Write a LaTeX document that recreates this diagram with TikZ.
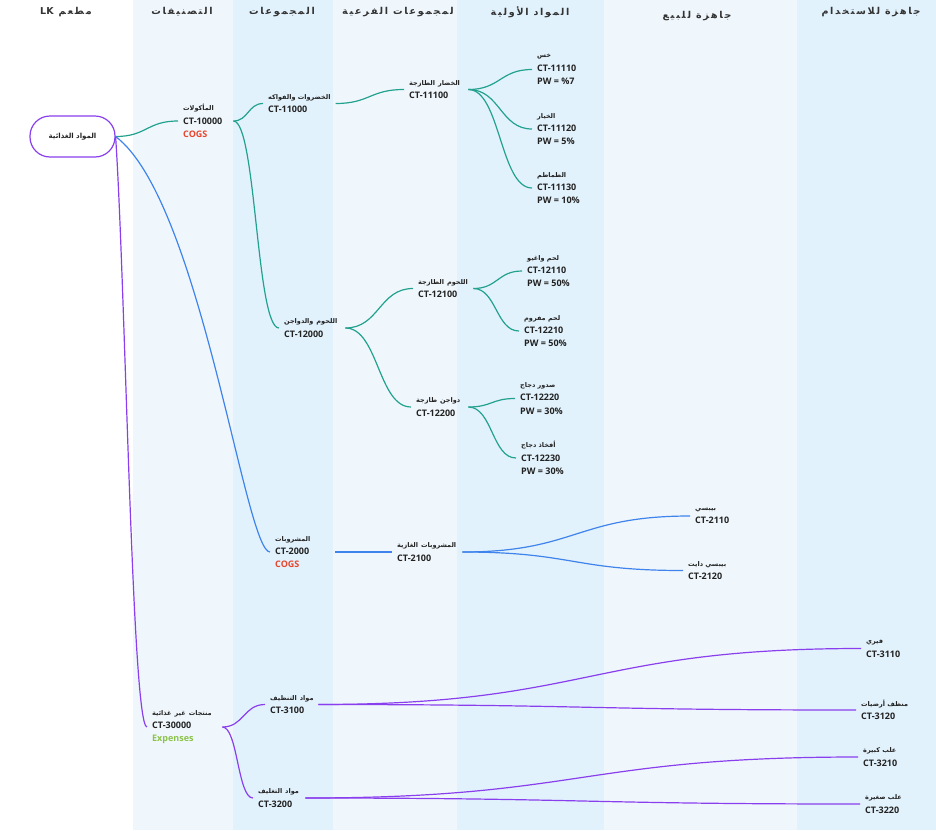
\documentclass[tikz,border=0pt]{standalone}
\usepackage{fontspec}
\setmainfont{Open Sans}
\newfontfamily\arfont[Script=Arabic]{DejaVu Sans}
\newfontfamily\hdfont[Script=Arabic,LetterSpace=18]{DejaVu Sans}
\TeXXeTstate=1
\usetikzlibrary{calc}
\definecolor{tealA}{HTML}{22A28E}
\definecolor{blueA}{HTML}{3F83EC}
\definecolor{purpA}{HTML}{8A3FEE}
\definecolor{bgA}{HTML}{F0F7FC}
\definecolor{bgB}{HTML}{E2F2FC}
\definecolor{cogsC}{HTML}{E8452C}
\definecolor{expnC}{HTML}{8BC34A}
\definecolor{txtC}{HTML}{222222}
\definecolor{hdC}{HTML}{333333}
\newcommand{\AR}[1]{\mbox{\fontsize{6.5}{13.3}\arfont\bfseries\beginR #1\endR}}
\newcommand{\CT}[1]{\mbox{\bfseries #1}}
\newcommand{\CG}{\mbox{\color{cogsC}\bfseries COGS}}
\newcommand{\EX}{\mbox{\color{expnC}\bfseries Expenses}}
\newcommand{\sconn}[3]{\draw[link,#1] (#2) .. controls ($(#2)!0.5!(#2-|#3)$) and ($(#3)!0.5!(#3-|#2)$) .. (#3);}
\tikzset{
  lbl/.style={anchor=west, inner xsep=5pt, inner ysep=0pt, align=left, font=\fontsize{9}{13.3}\selectfont, text=txtC},
  hdr/.style={font=\fontsize{9.5}{11}\hdfont\bfseries, text=hdC, inner sep=0pt},
  link/.style={line width=1.2pt},
  rootbox/.style={draw=purpA, line width=1.2pt, rounded corners=20pt, minimum width=85pt, minimum height=41pt, fill=white, font=\fontsize{7}{9}\arfont\bfseries, text=txtC}
}
\begin{document}
\begin{tikzpicture}[x=1pt,y=-1pt]
\useasboundingbox (0,0) rectangle (936,830);
% column backgrounds
\fill[white] (0,0) rectangle (133,830);
\fill[bgA] (133,0) rectangle (233,830);
\fill[bgB] (233,0) rectangle (333,830);
\fill[bgA] (333,0) rectangle (457,830);
\fill[bgB] (457,0) rectangle (604,830);
\fill[bgA] (604,0) rectangle (797,830);
\fill[bgB] (797,0) rectangle (936,830);
% headers
\node[hdr] (h1) at (66,12) {\beginR مطعم \beginL{\arfont\bfseries LK}\endL\endR};
\node[hdr] (h2) at (182,12) {\beginR التصنيفات\endR};
\node[hdr] (h3) at (282,12) {\beginR المجموعات\endR};
\node[hdr] (h4) at (398,12) {\beginR لمجموعات الفرعية\endR};
\node[hdr] (h5) at (530,12) {\beginR المواد الأولية\endR};
\node[hdr] (h6) at (697,16) {\beginR جاهزة للبيع\endR};
\node[hdr] (h7) at (871,12) {\beginR جاهزة للاستخدام\endR};
% root
\node[rootbox] (root) at (72.5,136.5) {\beginR المواد الغذائية\endR};
% level 1
\node[lbl,text width=45pt] (n10000) at (178,121) {\AR{المأكولات}\\\CT{CT-10000}\\\CG};
\node[lbl,text width=65pt] (n30000) at (147,727) {\AR{منتجات غير غذائية}\\\CT{CT-30000}\\\EX};
% level 2
\node[lbl] (n11000) at (263,103.5) {\AR{الخضروات والفواكه}\\\CT{CT-11000}};
\node[lbl,text width=56pt] (n12000) at (279,328) {\AR{اللحوم والدواجن}\\\CT{CT-12000}};
\node[lbl,text width=55pt] (n2000) at (270,552) {\AR{المشروبات}\\\CT{CT-2000}\\\CG};
\node[lbl,text width=43pt] (n3100) at (265,704.5) {\AR{مواد التنظيف}\\\CT{CT-3100}};
\node[lbl,text width=42pt] (n3200) at (253,798) {\AR{مواد التغليف}\\\CT{CT-3200}};
% level 3
\node[lbl,text width=54pt] (n11100) at (404,89.5) {\AR{الخضار الطازجة}\\\CT{CT-11100}};
\node[lbl,text width=50pt] (n12100) at (413,288.5) {\AR{اللحوم الطازجة}\\\CT{CT-12100}};
\node[lbl,text width=47pt] (n12200) at (411,407) {\AR{دواجن طازجة}\\\CT{CT-12200}};
\node[lbl,text width=60pt] (n2100) at (392,552) {\AR{المشروبات الغازية}\\\CT{CT-2100}};
% level 4
\node[lbl] (n11110) at (532,69.5) {\AR{خس}\\\CT{CT-11110}\\\CT{PW = \%7}};
\node[lbl] (n11120) at (532,129) {\AR{الخيار}\\\CT{CT-11120}\\\CT{PW = 5\%}};
\node[lbl] (n11130) at (532,188) {\AR{الطماطم}\\\CT{CT-11130}\\\CT{PW = 10\%}};
\node[lbl] (n12110) at (522,271) {\AR{لحم واغيو}\\\CT{CT-12110}\\\CT{PW = 50\%}};
\node[lbl] (n12210) at (519,331) {\AR{لحم مفروم}\\\CT{CT-12210}\\\CT{PW = 50\%}};
\node[lbl] (n12220) at (515,398.5) {\AR{صدور دجاج}\\\CT{CT-12220}\\\CT{PW = 30\%}};
\node[lbl] (n12230) at (516,458) {\AR{أفخاذ دجاج}\\\CT{CT-12230}\\\CT{PW = 30\%}};
\node[lbl] (n2110) at (690,516) {\AR{بيبسي}\\\CT{CT-2110}};
\node[lbl] (n2120) at (683,570.5) {\AR{بيبسي دايت}\\\CT{CT-2120}};
\node[lbl] (n3110) at (861,648.5) {\AR{فيري}\\\CT{CT-3110}};
\node[lbl] (n3120) at (856,710) {\AR{منظف أرضيات}\\\CT{CT-3120}};
\node[lbl] (n3210) at (858,757) {\AR{علب كبيرة}\\\CT{CT-3210}};
\node[lbl] (n3220) at (860,804) {\AR{علب صغيرة}\\\CT{CT-3220}};
% connectors
\sconn{tealA}{root.east}{n10000.west}
\draw[link,blueA] (root.east) .. controls +(85,64) and +(-25,0) .. (n2000.west);
\draw[link,purpA] (root.east) .. controls +(10,150) and +(-15,0) .. (n30000.west);
\sconn{tealA}{n10000.east}{n11000.west}
\sconn{tealA}{n10000.east}{n12000.west}
\sconn{tealA}{n11000.east}{n11100.west}
\sconn{tealA}{n11100.east}{n11110.west}
\sconn{tealA}{n11100.east}{n11120.west}
\sconn{tealA}{n11100.east}{n11130.west}
\sconn{tealA}{n12000.east}{n12100.west}
\sconn{tealA}{n12000.east}{n12200.west}
\sconn{tealA}{n12100.east}{n12110.west}
\sconn{tealA}{n12100.east}{n12210.west}
\sconn{tealA}{n12200.east}{n12220.west}
\sconn{tealA}{n12200.east}{n12230.west}
\draw[link,blueA] (n2000.east) -- (n2100.west);
\sconn{blueA}{n2100.east}{n2110.west}
\sconn{blueA}{n2100.east}{n2120.west}
\sconn{purpA}{n30000.east}{n3100.west}
\sconn{purpA}{n30000.east}{n3200.west}
\sconn{purpA}{n3100.east}{n3110.west}
\sconn{purpA}{n3100.east}{n3120.west}
\sconn{purpA}{n3200.east}{n3210.west}
\sconn{purpA}{n3200.east}{n3220.west}
\end{tikzpicture}
\end{document}
